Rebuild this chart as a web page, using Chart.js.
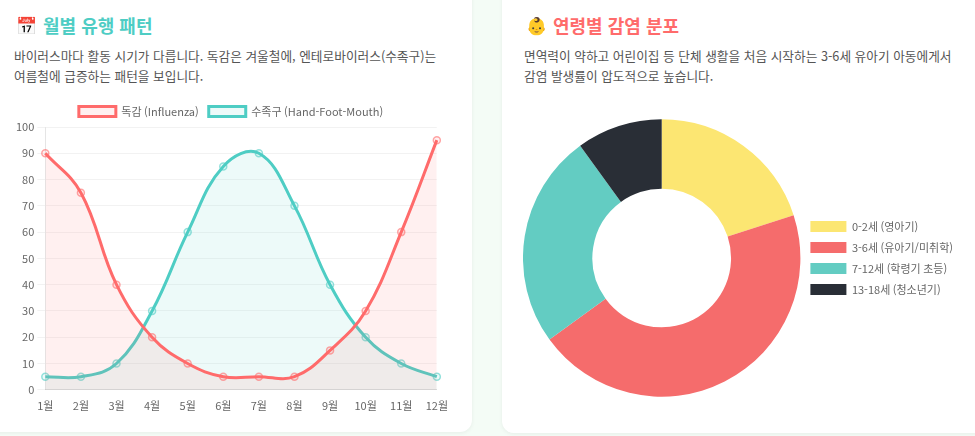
<!DOCTYPE html>
<html lang="ko">
<head>
<meta charset="utf-8">
<script src="https://cdn.jsdelivr.net/npm/chart.js@4.4.1/dist/chart.umd.min.js"></script>
<style>
  html, body { margin: 0; padding: 0; }
  body {
    width: 975px; height: 436px; overflow: hidden; position: relative;
    background: #f4fcf6;
    font-family: "Noto Sans CJK KR", "Noto Sans", sans-serif;
  }
  .card {
    position: absolute; background: #fff; border-radius: 12px;
    box-shadow: 0 1px 4px rgba(0, 0, 0, 0.06);
  }
  #leftCard { left: -20px; top: -20px; width: 492px; height: 452px; }
  #rightCard { left: 502px; top: -20px; width: 500px; height: 453px; }
  .title {
    position: absolute; font-size: 18px; font-weight: bold; line-height: 22px;
    white-space: nowrap;
  }
  .icon { position: absolute; font-size: 17px; line-height: 22px; }
  .desc {
    position: absolute; font-size: 12.7px; line-height: 20px; color: #555;
    white-space: nowrap;
  }
  .box { position: absolute; }
</style>
</head>
<body>
<div class="card" id="leftCard"></div>
<div class="card" id="rightCard"></div>

<div class="icon" style="left:16px; top:14px;">📅</div>
<div class="title" style="left:43px; top:14px; color:#4ecdc4;">월별 유행 패턴</div>
<div class="desc" style="left:14px; top:46px;">바이러스마다 활동 시기가 다릅니다. 독감은 겨울철에, 엔테로바이러스(수족구)는<br>여름철에 급증하는 패턴을 보입니다.</div>

<div class="icon" style="left:526px; top:14px;">👶</div>
<div class="title" style="left:553px; top:14px; color:#ff6b6b;">연령별 감염 분포</div>
<div class="desc" style="left:524px; top:46px;">면역력이 약하고 어린이집 등 단체 생활을 처음 시작하는 3-6세 유아기 아동에게서<br>감염 발생률이 압도적으로 높습니다.</div>

<div class="box" style="left:13px; top:96px; width:436px; height:317px;"><canvas id="seasonChart"></canvas></div>
<div class="box" style="left:523px; top:119px; width:440px; height:278px;"><canvas id="ageChart"></canvas></div>

<script>
// monthly pattern data
var monthLabels = ['1월', '2월', '3월', '4월', '5월', '6월', '7월', '8월', '9월', '10월', '11월', '12월'];
var fluData = [90, 75, 40, 20, 10, 5, 5, 5, 15, 30, 60, 95];
var hfmData = [5, 5, 10, 30, 60, 85, 90, 70, 40, 20, 10, 5];

// age distribution data
var ageLabels = ['0-2세 (영아기)', '3-6세 (유아기/미취학)', '7-12세 (학령기 초등)', '13-18세 (청소년기)'];
var ageData = [20, 45, 25, 10];
var ageColors = ['#FCE672', '#F56C6C', '#63CCC2', '#292E36'];

Chart.defaults.font.family = '"Noto Sans CJK KR", "Noto Sans", sans-serif';
Chart.defaults.font.size = 11;
Chart.defaults.color = '#666';
Chart.defaults.animation = false;

var seasonCtx = document.getElementById('seasonChart').getContext('2d');
var seasonChart = new Chart(seasonCtx, {
    type: 'line',
    data: {
        labels: monthLabels,
        datasets: [{
            label: '독감 (Influenza)',
            data: fluData,
            borderColor: '#FF6B6B',
            backgroundColor: 'rgba(255, 107, 107, 0.1)',
            pointBackgroundColor: 'rgba(255, 107, 107, 0.1)',
            pointBorderColor: 'rgba(255, 107, 107, 0.6)',
            pointBorderWidth: 1.5,
            pointRadius: 3.5,
            borderWidth: 3,
            tension: 0.4,
            fill: true
        }, {
            label: '수족구 (Hand-Foot-Mouth)',
            data: hfmData,
            borderColor: '#4ECDC4',
            backgroundColor: 'rgba(78, 205, 196, 0.1)',
            pointBackgroundColor: 'rgba(78, 205, 196, 0.1)',
            pointBorderColor: 'rgba(78, 205, 196, 0.6)',
            pointBorderWidth: 1.5,
            pointRadius: 3.5,
            borderWidth: 3,
            tension: 0.4,
            fill: true
        }]
    },
    options: {
        responsive: true,
        maintainAspectRatio: false,
        scales: {
            x: {
                grid: {
                    display: false
                },
                ticks: {
                    padding: 1
                }
            },
            y: {
                min: 0,
                max: 100,
                ticks: {
                    stepSize: 10
                },
                grid: {
                    color: 'rgba(0, 0, 0, 0.05)'
                }
            }
        },
        plugins: {
            legend: {
                labels: {
                    boxWidth: 37,
                    boxHeight: 10
                }
            },
            tooltip: {
                enabled: false
            }
        }
    }
});

var ageCtx = document.getElementById('ageChart').getContext('2d');
var ageChart = new Chart(ageCtx, {
    type: 'doughnut',
    data: {
        labels: ageLabels,
        datasets: [{
            data: ageData,
            backgroundColor: ageColors,
            borderWidth: 0,
            hoverOffset: 0
        }]
    },
    options: {
        responsive: true,
        maintainAspectRatio: false,
        cutout: '50%',
        plugins: {
            legend: {
                position: 'right',
                labels: {
                    boxWidth: 36,
                    boxHeight: 11
                }
            },
            tooltip: {
                enabled: false
            }
        }
    }
});
</script>
</body>
</html>
